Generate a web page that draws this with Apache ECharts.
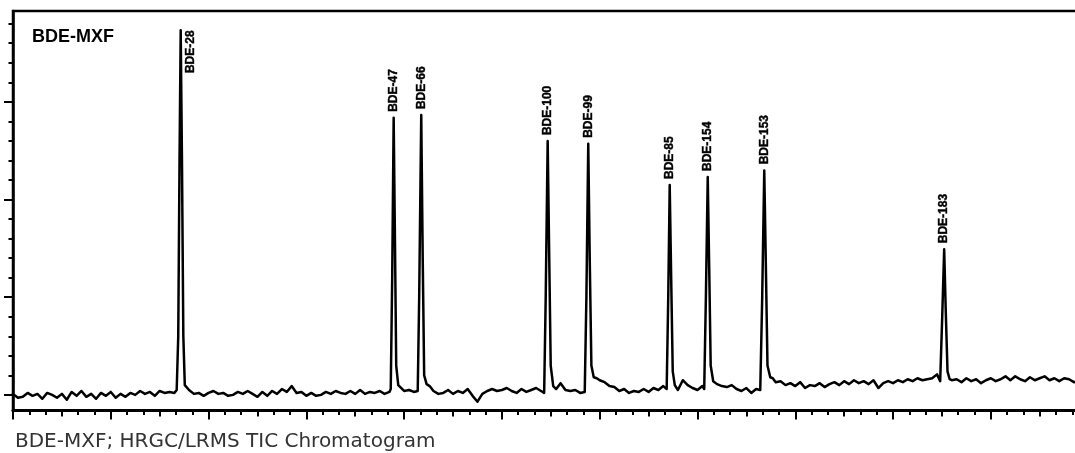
<!DOCTYPE html>
<html>
<head>
<meta charset="utf-8">
<title>BDE-MXF TIC Chromatogram</title>
<script src="https://cdn.jsdelivr.net/npm/echarts@6/dist/echarts.min.js"></script>
<style>
  html, body { margin: 0; padding: 0; background: #fff; }
  #chart { width: 1075px; height: 453px; }
</style>
</head>
<body>
<div id="chart"></div>
<script>
// Congener peaks: name, retention position (axis units) and apex response
const peakNames   = ['BDE-28', 'BDE-47', 'BDE-66', 'BDE-100', 'BDE-99', 'BDE-85', 'BDE-154', 'BDE-153', 'BDE-183'];
const peakTimes   = [1.715, 3.893, 4.175, 5.468, 5.883, 6.716, 7.105, 7.683, 9.523];
const peakHeights = [18.67, 14.18, 14.32, 12.99, 12.85, 10.74, 11.15, 11.49, 7.45];

// Total ion current trace (baseline and peak flanks); the apexes come from the peak arrays
const signal = [
  [0.00, 0.05], [0.05, -0.15], [0.10, -0.10], [0.15, 0.10], [0.20, -0.05], [0.25, 0.05],
  [0.30, -0.20], [0.35, 0.10], [0.40, 0.00], [0.45, -0.15], [0.50, 0.05], [0.55, -0.25],
  [0.60, 0.15], [0.65, -0.05], [0.70, 0.20], [0.75, -0.10], [0.80, 0.05], [0.85, -0.20],
  [0.90, 0.10], [0.95, -0.05], [1.00, 0.15], [1.05, -0.15], [1.10, 0.05], [1.15, -0.10],
  [1.20, 0.10], [1.25, 0.00], [1.30, 0.20], [1.35, 0.05], [1.40, 0.15], [1.45, -0.05],
  [1.50, 0.20], [1.55, 0.10], [1.60, 0.15], [1.65, 0.10],
  [1.674, 0.25], [1.690, 3.0], [1.703, 12.0], [1.728, 12.0], [1.742, 3.0], [1.757, 0.5],
  [1.80, 0.25], [1.85, 0.05], [1.90, 0.10], [1.95, -0.05], [2.00, 0.10], [2.05, 0.20],
  [2.10, 0.05], [2.15, 0.10], [2.20, -0.05], [2.25, 0.00], [2.30, 0.15], [2.35, 0.05],
  [2.40, 0.20], [2.45, 0.05], [2.50, -0.10], [2.55, 0.15], [2.60, -0.05], [2.65, 0.20],
  [2.70, 0.05], [2.75, 0.30], [2.80, 0.15], [2.85, 0.45], [2.90, 0.10], [2.95, 0.15],
  [3.00, -0.05], [3.05, 0.10], [3.10, -0.05], [3.15, 0.00], [3.20, 0.15], [3.25, 0.05],
  [3.30, 0.20], [3.35, 0.10], [3.40, 0.05], [3.45, 0.20], [3.50, 0.05], [3.55, 0.25],
  [3.60, 0.05], [3.65, 0.15], [3.70, 0.10], [3.75, 0.20], [3.80, 0.05], [3.85, 0.15],
  [3.863, 0.30], [3.878, 6.0], [3.906, 8.0], [3.919, 1.5], [3.940, 0.50], [3.955, 0.45],
  [4.00, 0.20], [4.05, 0.25], [4.10, 0.15],
  [4.139, 0.20], [4.154, 5.0], [4.190, 7.0], [4.205, 1.0], [4.230, 0.55], [4.261, 0.45],
  [4.30, 0.20], [4.35, 0.05], [4.40, 0.10], [4.45, 0.25], [4.50, 0.05], [4.55, 0.20],
  [4.60, 0.10], [4.65, 0.30], [4.70, -0.05], [4.75, -0.35], [4.80, 0.05], [4.85, 0.20],
  [4.90, 0.30], [4.95, 0.20], [5.00, 0.25], [5.05, 0.35], [5.10, 0.20], [5.15, 0.10],
  [5.20, 0.30], [5.25, 0.15], [5.30, 0.25], [5.35, 0.35], [5.40, 0.20],
  [5.432, 0.10], [5.448, 5.0], [5.484, 7.0], [5.499, 1.5], [5.525, 0.45], [5.555, 0.30],
  [5.60, 0.60], [5.65, 0.25], [5.70, 0.20], [5.75, 0.25], [5.80, 0.10],
  [5.847, 0.15], [5.864, 5.0], [5.898, 7.0], [5.915, 1.5], [5.939, 0.90], [5.970, 0.85],
  [6.00, 0.75], [6.05, 0.65], [6.10, 0.45], [6.15, 0.40], [6.20, 0.20], [6.25, 0.30],
  [6.30, 0.10], [6.35, 0.20], [6.40, 0.15], [6.45, 0.30], [6.50, 0.15], [6.55, 0.35],
  [6.60, 0.25], [6.65, 0.45],
  [6.685, 0.30], [6.701, 5.0], [6.731, 6.0], [6.747, 1.2], [6.768, 0.50],
  [6.80, 0.25], [6.85, 0.75], [6.90, 0.50], [6.95, 0.35], [7.00, 0.25], [7.05, 0.45],
  [7.069, 0.30], [7.086, 5.0], [7.120, 6.5], [7.135, 1.5], [7.161, 0.70],
  [7.20, 0.55], [7.25, 0.45], [7.30, 0.40], [7.35, 0.50], [7.40, 0.30], [7.45, 0.20],
  [7.50, 0.35], [7.55, 0.10], [7.60, 0.30],
  [7.642, 0.25], [7.662, 5.0], [7.698, 7.0], [7.716, 1.5], [7.744, 0.90], [7.770, 0.85],
  [7.80, 0.65], [7.85, 0.70], [7.90, 0.50], [7.95, 0.60], [8.00, 0.45], [8.05, 0.65],
  [8.10, 0.35], [8.15, 0.50], [8.20, 0.45], [8.25, 0.60], [8.30, 0.40], [8.35, 0.55],
  [8.40, 0.65], [8.45, 0.50], [8.50, 0.70], [8.55, 0.55], [8.60, 0.75], [8.65, 0.60],
  [8.70, 0.70], [8.75, 0.55], [8.80, 0.75], [8.85, 0.35], [8.90, 0.60], [8.95, 0.70],
  [9.00, 0.60], [9.05, 0.75], [9.10, 0.65], [9.15, 0.80], [9.20, 0.70], [9.25, 0.85],
  [9.30, 0.75], [9.35, 0.80], [9.40, 0.85], [9.45, 1.05],
  [9.482, 0.70], [9.503, 4.0], [9.538, 4.5], [9.557, 1.2], [9.579, 0.80],
  [9.60, 0.75], [9.65, 0.80], [9.70, 0.65], [9.75, 0.85], [9.80, 0.70], [9.85, 0.80],
  [9.90, 0.60], [9.95, 0.75], [10.00, 0.85], [10.05, 0.70], [10.10, 0.80], [10.15, 0.95],
  [10.20, 0.75], [10.25, 0.95], [10.30, 0.80], [10.35, 0.70], [10.40, 0.90], [10.45, 0.75],
  [10.50, 0.85], [10.55, 0.95], [10.60, 0.75], [10.65, 0.85], [10.70, 0.70], [10.75, 0.85],
  [10.80, 0.80], [10.85, 0.65], [10.90, 0.70]
];

// Axis tick positions (no tick labels are printed)
const xMajorTicks  = [0, 1, 2, 3, 4, 5, 6, 7, 8, 9, 10];
const xMiddleTicks = xMajorTicks.map(v => v + 0.5);
const xMinorTicks  = [];
xMajorTicks.forEach(v => { for (let k = 1; k < 6; k++) xMinorTicks.push(v + k / 6); });
const yMajorTicks  = [0, 5, 10, 15];
const yMinorTicks  = [1, 2, 3, 4, 6, 7, 8, 9, 11, 12, 13, 14, 16, 17, 18, 19];

const chartTitle = 'BDE-MXF';
const caption = 'BDE-MXF; HRGC/LRMS TIC Chromatogram';

const trace = signal
  .concat(peakTimes.map((t, i) => [t, peakHeights[i]]))
  .sort((a, b) => a[0] - b[0]);

const X_MIN = 0, X_MAX = 10.912, Y_MIN = -0.8, Y_MAX = 19.65;
const INK = '#000';

function xAxisLayer(ticks, len, showLine) {
  return {
    type: 'value', min: X_MIN, max: X_MAX, position: 'bottom',
    axisLine: { show: showLine, onZero: false, lineStyle: { color: INK, width: 3 } },
    axisTick: { show: true, customValues: ticks, length: len, lineStyle: { color: INK, width: 2 } },
    axisLabel: { show: false }, splitLine: { show: false }
  };
}
function yAxisLayer(ticks, len, showLine) {
  return {
    type: 'value', min: Y_MIN, max: Y_MAX, position: 'left',
    axisLine: { show: showLine, onZero: false, lineStyle: { color: INK, width: 2.5 } },
    axisTick: { show: true, customValues: ticks, length: len, lineStyle: { color: INK, width: 2 } },
    axisLabel: { show: false }, splitLine: { show: false }
  };
}

const chart = echarts.init(document.getElementById('chart'), null, { renderer: 'canvas' });
chart.setOption({
  animation: false,
  backgroundColor: '#fff',
  grid: {
    left: 13, top: 11, right: -5, bottom: 42.5,
    show: true, borderColor: INK, borderWidth: 2.5,
    outerBoundsMode: 'none', containLabel: false
  },
  xAxis: [
    xAxisLayer(xMinorTicks, 4.5, false),
    xAxisLayer(xMiddleTicks, 6, false),
    xAxisLayer(xMajorTicks, 9, true)
  ],
  yAxis: [
    yAxisLayer(yMinorTicks, 4.5, false),
    yAxisLayer(yMajorTicks, 9, true)
  ],
  series: [
    {
      type: 'line', xAxisIndex: 2, yAxisIndex: 1,
      data: trace, showSymbol: false, symbol: 'none', smooth: false,
      lineStyle: { color: INK, width: 2.5, join: 'round', cap: 'round' },
      z: 3
    },
    {
      type: 'scatter', xAxisIndex: 2, yAxisIndex: 1,
      symbolSize: 0.1,
      itemStyle: { color: 'rgba(0,0,0,0)' },
      data: peakTimes.map((t, i) => ({
        value: [t, peakHeights[i]],
        name: peakNames[i],
        // the first label sits beside its peak instead of above it
        label: i === 0 ? { offset: [-49, 10] } : undefined
      })),
      label: {
        show: true, position: 'top', distance: 6, rotate: 90,
        align: 'left', verticalAlign: 'middle',
        formatter: '{b}', color: INK, opacity: 1,
        textBorderColor: INK, textBorderWidth: 0.4,
        fontFamily: '"Liberation Sans", Arial, sans-serif', fontWeight: 'bold', fontSize: 12
      },
      z: 4
    }
  ],
  graphic: [
    {
      type: 'text', left: 32, top: 28.5,
      style: { text: chartTitle, fill: INK, font: 'bold 18px "Liberation Sans", Arial, sans-serif' }
    },
    {
      type: 'text', left: 15, top: 431.5,
      style: { text: caption, fill: '#333', font: '20px "DejaVu Sans", sans-serif' }
    }
  ]
});
</script>
</body>
</html>
